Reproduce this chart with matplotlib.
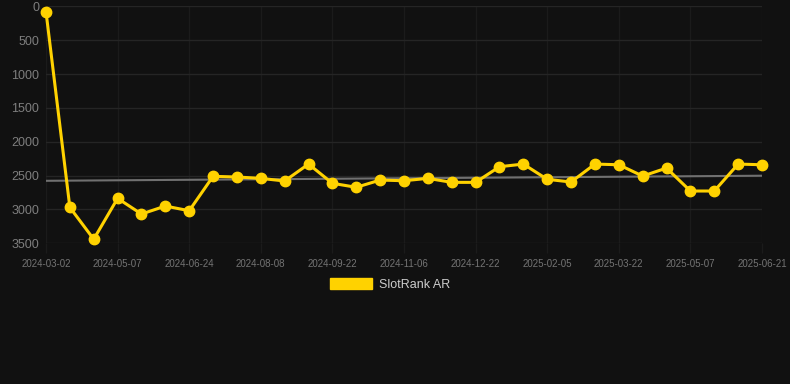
import numpy as np
import matplotlib.pyplot as plt
from matplotlib.patches import Patch

# SlotRank AR over time (rank, lower is better -> inverted axis)
tick_labels = ["2024-03-02", "2024-05-07", "2024-06-24", "2024-08-08", "2024-09-22",
               "2024-11-06", "2024-12-22", "2025-02-05", "2025-03-22", "2025-05-07",
               "2025-06-21"]
rank = [80, 2970, 3440, 2836, 3068, 2950, 3019, 2511, 2521, 2541,
        2580, 2330, 2614, 2673, 2566, 2576, 2541, 2600, 2600, 2369,
        2330, 2555, 2595, 2330, 2340, 2507, 2389, 2728, 2728, 2330,
        2340]
trend = [2577, 2502]  # start / end of the grey trend line
yticks = [0, 500, 1000, 1500, 2000, 2500, 3000, 3500]

plt.rcParams['font.family'] = ['Liberation Sans', 'DejaVu Sans']

bg = "#111111"
gold = "#ffd200"

fig = plt.figure(figsize=(7.9, 3.84), dpi=100, facecolor=bg)
ax = fig.add_axes([46/790, 1-243.3/384, (762-46)/790, (243.3-6.3)/384])
ax.set_facecolor(bg)

x = np.arange(len(rank))
ax.plot([x[0], x[-1]], trend, color="#707070", lw=1.5, zorder=2)
ax.plot(x, rank, color=gold, lw=2.2, marker="o", markersize=7.5,
        markerfacecolor=gold, markeredgecolor=gold, zorder=3, clip_on=False)

ax.set_xlim(0, len(rank) - 1)
ax.set_ylim(3500, 0)
ax.set_yticks(yticks)
ax.set_yticklabels([str(v) for v in yticks])
ax.set_xticks(x[::3])
ax.set_xticklabels(tick_labels)

ax.grid(True, axis="y", color="#252525", lw=1)
ax.grid(True, axis="x", color="#1b1b1b", lw=1)
ax.set_axisbelow(True)
for s in ax.spines.values():
    s.set_visible(False)
ax.tick_params(axis="y", length=0, pad=5, labelsize=9, labelcolor="#7e7e7e")
ax.tick_params(axis="x", length=7, width=1, color="#1b1b1b", pad=4,
               labelsize=7, labelcolor="#747474")

fig.legend(handles=[Patch(facecolor=gold, edgecolor=gold, label="SlotRank AR")],
           loc="center", bbox_to_anchor=(0.494, 1-284.5/384), frameon=False,
           fontsize=9, labelcolor="#cccccc", handlelength=3.3, handleheight=0.95,
           handletextpad=0.6)

fig.savefig("out.png", dpi=100, facecolor=bg)
